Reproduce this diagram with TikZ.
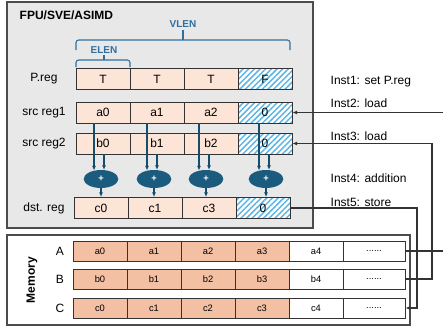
\documentclass[tikz,border=0pt]{standalone}
\usepackage{fontspec}
\setmainfont{Liberation Sans}
\usetikzlibrary{arrows.meta,positioning,calc,patterns.meta,shapes.geometric}
\definecolor{regfill}{HTML}{FCE4D6}
\definecolor{memfill}{HTML}{F4C0A4}
\definecolor{boxgray}{HTML}{E8E8E8}
\definecolor{hatch}{HTML}{5BB5E5}
\definecolor{opblue}{HTML}{1A5B7E}
\definecolor{lenblue}{HTML}{2E6FA0}

\tikzset{
  cell/.style={draw=black!80,fill=regfill,line width=0.7pt,minimum width=40.5pt,minimum height=15.75pt,inner sep=0pt,font=\fontsize{9}{10}\selectfont},
  masked/.style={cell,preaction={fill=white},pattern={Lines[angle=45,distance=3pt,line width=1.1pt]},pattern color=hatch},
  memcell/.style={draw=black!80,fill=memfill,line width=0.7pt,minimum width=40.5pt,minimum height=15pt,inner sep=0pt,font=\fontsize{7}{8}\selectfont},
  rowlab/.style={font=\fontsize{9}{10}\selectfont},
  inst/.style={anchor=west,font=\fontsize{9}{10}\selectfont},
  lenlab/.style={text=lenblue,font=\bfseries\fontsize{7.5}{8}\selectfont},
  len/.style={draw=lenblue,line width=0.8pt,rounded corners=2pt},
  addop/.style={ellipse,fill=opblue,text=white,minimum width=26pt,minimum height=13.5pt,inner sep=0pt,font=\bfseries\fontsize{7}{8}\selectfont},
  flow/.style={->,draw=opblue!85!black,line width=0.8pt},
  bus/.style={draw=black!80,line width=0.8pt}
}

\begin{document}
\begin{tikzpicture}[x=0.75pt,y=-0.75pt,>={Latex[length=3.5pt,width=3pt]}]
\useasboundingbox (0,0) rectangle (443,329);
\clip (0,0) rectangle (443,329);
% vector unit
\draw[draw=black!70,fill=boxgray,line width=0.8pt] (7,2) rectangle (313,228);
\node[anchor=west,font=\bfseries\fontsize{9}{10}\selectfont] (fpu) at (15,15) {FPU/SVE/ASIMD};

\node[rowlab] (lp) at (44,79) {P.reg};
\node[rowlab] (la) at (44,112.5) {src reg1};
\node[rowlab] (lb) at (44,143.5) {src reg2};
\node[rowlab] (lc) at (44,208) {dst. reg};

\foreach \t [count=\i] in {T,T,T} \node[cell] (p-\i) at (49+54*\i,79) {\t};
\node[masked] (p-4) at (265,79) {F};
\foreach \t [count=\i] in {a0,a1,a2} \node[cell] (a-\i) at (49+54*\i,112.5) {\t};
\node[masked] (a-4) at (265,112.5) {0};
\foreach \t [count=\i] in {b0,b1,b2} \node[cell] (b-\i) at (49+54*\i,143.5) {\t};
\node[masked] (b-4) at (265,143.5) {0};
\foreach \t [count=\i] in {c0,c1,c3} \node[cell] (c-\i) at (47+54*\i,208) {\t};
\node[masked] (c-4) at (263,208) {0};

% VLEN / ELEN
\draw[len] (76,50) |- (183,40) -| (290,50);
\draw[len] (183,40) -- (183,30);
\node[lenlab] (vlen) at (183,24) {VLEN};
\draw[len] (76,67) |- (104,60) -| (130,67);
\draw[len] (104,60) -- (104,55);
\node[lenlab] (elen) at (104,50) {ELEN};

% lane adders
\foreach \x [count=\i] in {101,154,206,266} \node[addop] (add\i) at (\x,179) {+};
\foreach \i in {1,...,4}{
  \coordinate (ina\i) at ($(add\i.north)+(-7,0.8)$);
  \coordinate (inb\i) at ($(add\i.north)+(3,0.2)$);
  \draw[flow] (ina\i |- a-\i.south) -- (ina\i);
  \draw[flow] (inb\i |- b-\i.south) -- (inb\i);
  \draw[flow] (add\i.south) -- (add\i.south |- c-\i.north);
}

% memory
\draw[draw=black!70,fill=white,line width=0.8pt] (7,235) rectangle (410,325);
\node[rotate=90,font=\bfseries\fontsize{9}{10}\selectfont] (mem) at (32,280) {Memory};
\foreach \r/\l/\y in {A/a/251,B/b/279,C/c/308}{
  \node[rowlab] (m\l) at (60,\y) {\r};
  \foreach \k in {0,...,3} \node[memcell] (m\l-\k) at (100+54*\k,\y) {\l\k};
  \node[memcell,fill=white] (m\l-4) at (316,\y) {\l4};
  \node[memcell,fill=white,minimum width=46.5pt] (m\l-5) at (374,\y) {......};
}

% instructions
\node[inst] (i1) at (326,82) {Inst1: set P.reg};
\node[inst] (i2) at (326,103) {Inst2: load};
\node[inst] (i3) at (326,136) {Inst3: load};
\node[inst] (i4) at (326,178) {Inst4: addition};
\node[inst] (i5) at (326,202) {Inst5: store};

\coordinate (ret2) at (460,0);
\coordinate (ret3) at (432,0);
\coordinate (ret5) at (417,0);
\draw[bus,->] (ma-5.east) -| (ret2 |- a-4.east) -- (a-4.east);
\draw[bus,<-] (b-4.east) -| (ret3 |- mb-5.east) -- (mb-5.east);
\draw[bus,->] (c-4.east) -| (ret5 |- mc-5.east) -- (mc-5.east);
\end{tikzpicture}
\end{document}
